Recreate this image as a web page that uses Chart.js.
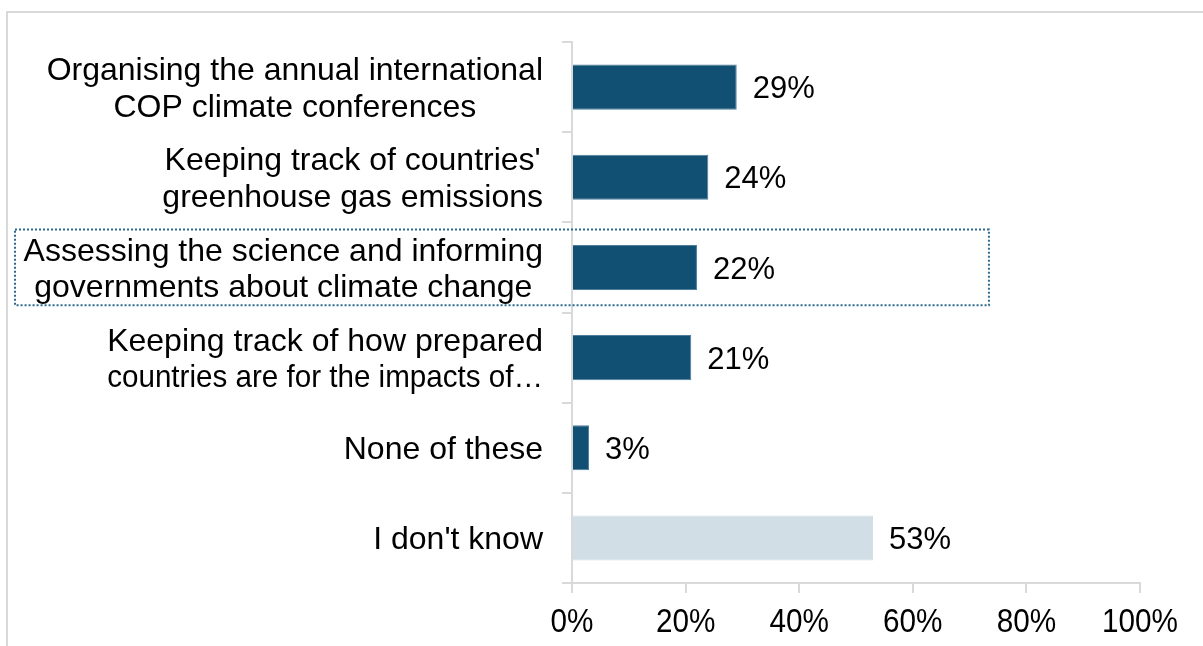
<!DOCTYPE html>
<html>
<head>
<meta charset="utf-8">
<script src="https://cdn.jsdelivr.net/npm/chart.js@4"></script>
<style>
  html, body { margin: 0; padding: 0; background: #ffffff; }
  canvas { display: block; }
</style>
</head>
<body>
<canvas id="chart" width="1203" height="646"></canvas>
<script>
// Survey answers: what people think the UN climate body does
const categories = [
  ['Organising the annual international', 'COP climate conferences'],
  ["Keeping track of countries'", 'greenhouse gas emissions'],
  ['Assessing the science and informing', 'governments about climate change'],
  ['Keeping track of how prepared', 'countries are for the impacts of\u2026'],
  'None of these',
  "I don't know"
];
const shares = [29, 24, 22, 21, 3, 53];
const axisTicks = [0, 20, 40, 60, 80, 100];

// Row picked out with a dotted outline, and how far right (in %) the outline reaches
const highlightRow = 2;
const highlightReach = 73.4;

const FONT = '"Liberation Sans", Arial, Helvetica, sans-serif';
const DARK = '#114f73';
const LIGHT = '#d1dee6';
const AXIS = '#d9d9d9';

const fills = shares.map((v, i) => i === shares.length - 1 ? LIGHT : DARK);
const edges = shares.map((v, i) => i === shares.length - 1 ? LIGHT : '#4f7d9c');

// Light frame along the top and left edges
const framePlugin = {
  id: 'frame',
  beforeDraw(chart) {
    const c = chart.ctx;
    c.save();
    c.strokeStyle = AXIS;
    c.lineWidth = 2;
    c.beginPath();
    c.moveTo(7, chart.height);
    c.lineTo(7, 12);
    c.lineTo(chart.width, 12);
    c.stroke();
    c.restore();
  }
};

// Category labels: each wrapped label is a block right-aligned to the axis,
// lines centred inside it; a truncated line is fitted to the block width
const categoryLabels = {
  id: 'categoryLabels',
  afterDraw(chart) {
    const c = chart.ctx;
    const y = chart.scales.y;
    const size = 32;
    const step = 36.5;
    const right = y.right - 29;
    c.save();
    c.font = size + 'px ' + FONT;
    c.fillStyle = '#000000';
    c.textAlign = 'center';
    c.textBaseline = 'alphabetic';
    categories.forEach((label, i) => {
      const lines = Array.isArray(label) ? label : [label];
      const full = lines.filter(l => !l.endsWith('\u2026'));
      const block = Math.max(...(full.length ? full : lines).map(l => c.measureText(l).width));
      const cx = right - block / 2;
      const mid = y.getPixelForTick(i);
      lines.forEach((line, j) => {
        const cy = mid + (j - (lines.length - 1) / 2) * step;
        c.fillText(line, cx, cy + size * 0.358, block);
      });
    });
    c.restore();
  }
};

// Axis percentages under the horizontal scale
const axisLabels = {
  id: 'axisLabels',
  afterDraw(chart) {
    const c = chart.ctx;
    const x = chart.scales.x;
    const size = 33;
    const squeeze = 0.9;
    const cy = x.top + 37.5;
    c.save();
    c.font = size + 'px ' + FONT;
    c.fillStyle = '#000000';
    c.textAlign = 'center';
    c.textBaseline = 'alphabetic';
    axisTicks.forEach(v => {
      const px = x.getPixelForValue(v);
      c.save();
      c.translate(px, cy + size * 0.358);
      c.scale(squeeze, 1);
      c.fillText(v + '%', 0, 0);
      c.restore();
    });
    c.restore();
  }
};

// Percentage labels just past the end of each bar
const valueLabels = {
  id: 'valueLabels',
  afterDatasetsDraw(chart) {
    const c = chart.ctx;
    const meta = chart.getDatasetMeta(0);
    const size = 31;
    c.save();
    c.font = size + 'px ' + FONT;
    c.fillStyle = '#000000';
    c.textAlign = 'left';
    c.textBaseline = 'alphabetic';
    meta.data.forEach((bar, i) => {
      c.fillText(shares[i] + '%', bar.x + 16, bar.y + size * 0.358);
    });
    c.restore();
  }
};

// Dotted outline around the highlighted row
const highlightBox = {
  id: 'highlightBox',
  afterDraw(chart) {
    const c = chart.ctx;
    const x = chart.scales.x;
    const y = chart.scales.y;
    const mid = y.getPixelForTick(highlightRow);
    const half = (y.getPixelForTick(1) - y.getPixelForTick(0)) * 0.42;
    const left = 15;
    const right = x.getPixelForValue(highlightReach);
    c.save();
    c.strokeStyle = '#2e6a92';
    c.lineWidth = 2;
    c.setLineDash([2, 2]);
    c.strokeRect(left, mid - half, right - left, half * 2);
    c.restore();
  }
};

new Chart(document.getElementById('chart'), {
  type: 'bar',
  data: {
    labels: categories,
    datasets: [{
      data: shares,
      backgroundColor: fills,
      borderColor: edges,
      borderWidth: 1,
      barPercentage: 0.5,
      categoryPercentage: 1.0
    }]
  },
  options: {
    indexAxis: 'y',
    responsive: false,
    animation: false,
    devicePixelRatio: 1,
    layout: { padding: { top: 42, right: 63, left: 0, bottom: 0 } },
    plugins: { legend: { display: false }, tooltip: { enabled: false } },
    scales: {
      x: {
        min: axisTicks[0],
        max: axisTicks[axisTicks.length - 1],
        afterBuildTicks(scale) { scale.ticks = axisTicks.map(v => ({ value: v })); },
        ticks: {
          callback: v => v + '%',
          color: 'rgba(0,0,0,0)',
          font: { family: FONT, size: 30 },
          padding: 9,
          maxRotation: 0,
          autoSkip: false
        },
        grid: { drawOnChartArea: false, drawTicks: true, tickLength: 10, color: AXIS, lineWidth: 2 },
        border: { color: AXIS, width: 2 },
        afterFit(scale) { scale.height = 63; }
      },
      y: {
        ticks: { display: false },
        grid: { drawOnChartArea: false, drawTicks: true, tickLength: 10, color: AXIS, lineWidth: 2, offset: true },
        border: { color: AXIS, width: 2 },
        afterFit(scale) { scale.width = 572; }
      }
    }
  },
  plugins: [framePlugin, categoryLabels, axisLabels, valueLabels, highlightBox]
});
</script>
</body>
</html>
